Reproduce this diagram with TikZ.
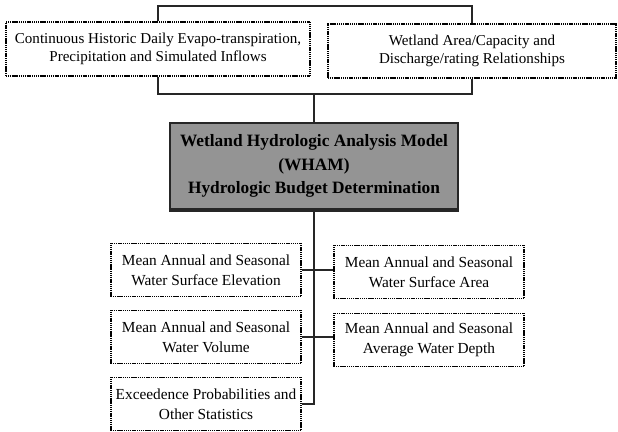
\documentclass[tikz,border=0pt]{standalone}
\usepackage{fontspec}
\setmainfont{Liberation Serif}
\begin{document}
\begin{tikzpicture}[x=0.75pt,y=-0.75pt,
  inbox/.style={draw=black, line width=1.2pt, dash pattern=on 0.9pt off 0.5pt, fill=white,
    align=center, inner sep=2pt, font=\fontsize{11.3}{13.5}\selectfont, minimum height=40.5pt},
  outbox/.style={draw=black, line width=1.2pt, dash pattern=on 0.9pt off 0.5pt, fill=white,
    align=center, inner sep=2pt, font=\fontsize{11.5}{15}\selectfont,
    minimum width=142.5pt, minimum height=40pt},
  model/.style={draw=black!85, line width=1.6pt, fill=black!42, align=center,
    font=\bfseries\fontsize{13}{17.5}\selectfont, minimum width=216pt, minimum height=64.5pt},
  link/.style={line width=1.6pt, draw=black!85}]
\useasboundingbox (0,0) rectangle (618,432);
% input boxes
\node[inbox, minimum width=228pt] (tl) at (158,49) {Continuous Historic Daily Evapo-transpiration,\\Precipitation and Simulated Inflows};
\node[inbox, minimum width=216pt] (tr) at (472,51) {Wetland Area/Capacity and\\Discharge/rating Relationships};
% model
\node[model] (wham) at (314,166) {Wetland Hydrologic Analysis Model\\(WHAM)\\Hydrologic Budget Determination};
\draw[black!85, line width=3pt] (wham.south west) -- (wham.south east);
% output boxes
\node[outbox] (b1) at (206,270) {Mean Annual and Seasonal\\Water Surface Elevation};
\node[outbox] (b2) at (429,272) {Mean Annual and Seasonal\\Water Surface Area};
\node[outbox] (b3) at (206,337) {Mean Annual and Seasonal\\Water Volume};
\node[outbox] (b4) at (429,340) {Mean Annual and Seasonal\\Average Water Depth};
\node[outbox] (b5) at (206,404) {Exceedence Probabilities and\\Other Statistics};
% coordinates
\coordinate (topline) at (314,6);
\coordinate (brk) at (314,94);
% top bracket
\draw[link] (tl.north) |- (topline) -| (tr.north);
% bottom bracket
\draw[link] (tl.south) |- (brk) -| (tr.south);
\draw[link] (brk) -- (wham.north);
% trunk
\draw[link] (wham.south) -- (wham.south |- b5.east) -- (b5.east);
\draw[link] (b1.east) -- (b1.east -| b2.west);
\draw[link] (b3.east) -- (b3.east -| b4.west);
\end{tikzpicture}
\end{document}
